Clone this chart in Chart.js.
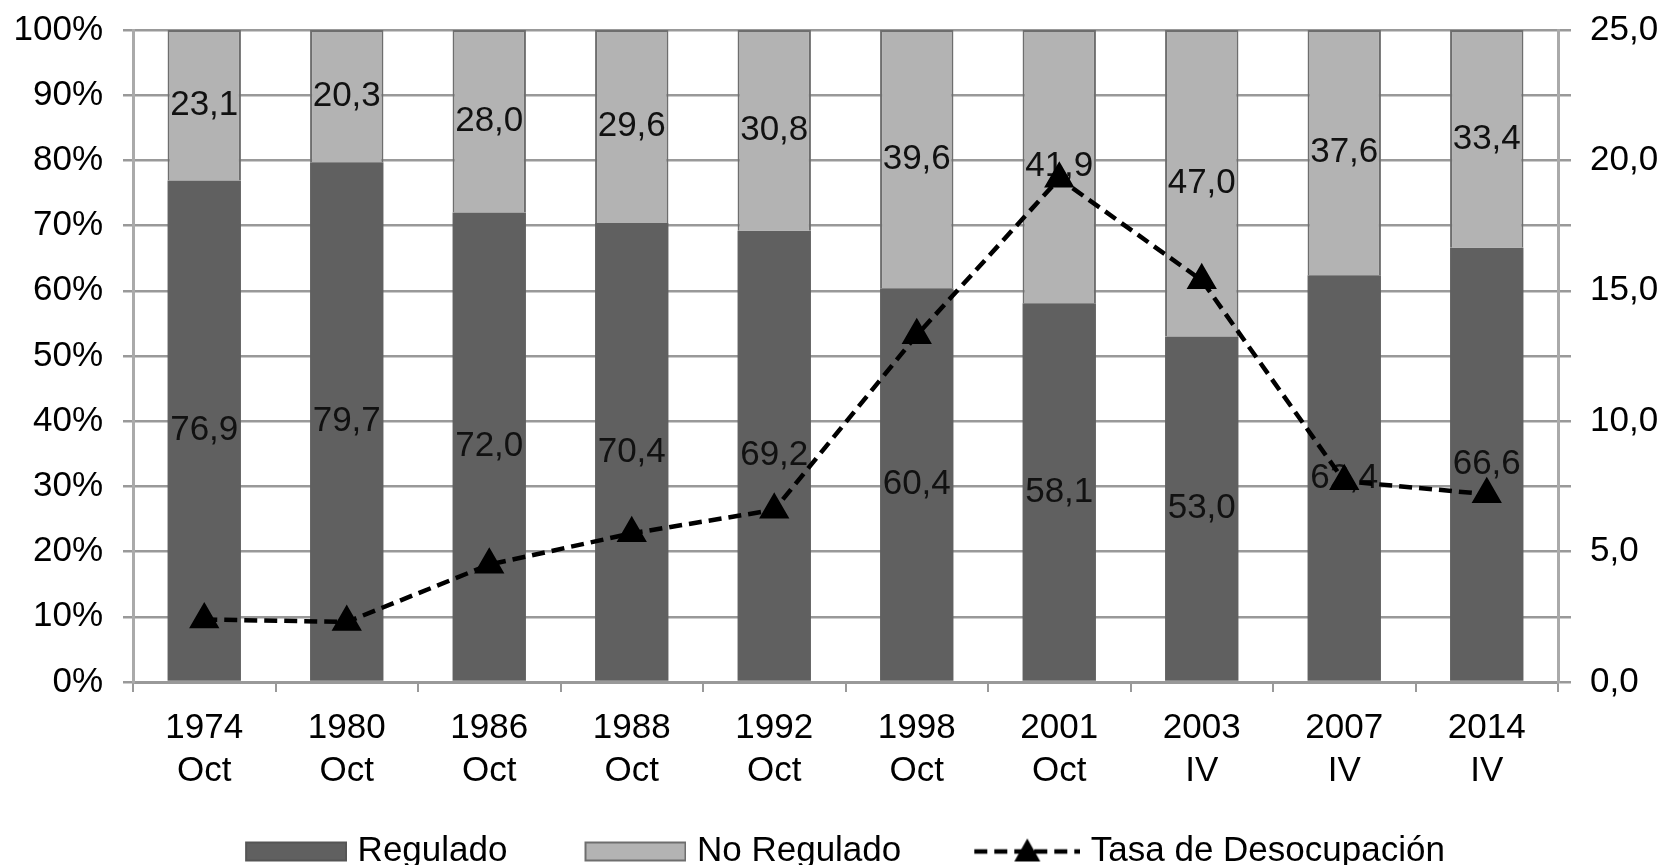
<!DOCTYPE html>
<html>
<head>
<meta charset="utf-8">
<script src="https://cdn.jsdelivr.net/npm/chart.js@4.4.1/dist/chart.umd.min.js"></script>
<style>
html, body { margin: 0; padding: 0; background: #fff; overflow: hidden; }
</style>
</head>
<body>
<canvas id="myChart" width="1665" height="879"></canvas>
<script>
var periods = [['1974', 'Oct'], ['1980', 'Oct'], ['1986', 'Oct'], ['1988', 'Oct'], ['1992', 'Oct'],
               ['1998', 'Oct'], ['2001', 'Oct'], ['2003', 'IV'], ['2007', 'IV'], ['2014', 'IV']];
var regulado = [76.9, 79.7, 72.0, 70.4, 69.2, 60.4, 58.1, 53.0, 62.4, 66.6];
var noRegulado = [23.1, 20.3, 28.0, 29.6, 30.8, 39.6, 41.9, 47.0, 37.6, 33.4];
var desocupacion = [2.4, 2.3, 4.5, 5.7, 6.6, 13.3, 19.3, 15.4, 7.7, 7.2];

var FONT = '"Liberation Sans", Arial, sans-serif';
var DARK = '#606060';
var LIGHT = '#b3b3b3';

function comma(v) { return v.toFixed(1).replace('.', ','); }

// legend icons, drawn right-aligned; the empty left part spaces the items
function icon(kind) {
  var c = document.createElement('canvas');
  c.width = 174; c.height = 30;
  var g = c.getContext('2d');
  if (kind === 'line') {
    g.strokeStyle = '#000'; g.lineWidth = 4.5; g.setLineDash([13, 7]);
    g.beginPath(); g.moveTo(68, 15); g.lineTo(174, 15); g.stroke();
    g.fillStyle = '#000';
    g.beginPath(); g.moveTo(121, 2); g.lineTo(134, 25); g.lineTo(108, 25); g.closePath(); g.fill();
  } else {
    g.fillStyle = kind === 'dark' ? DARK : LIGHT;
    g.fillRect(72, 5, 102, 20);
    g.strokeStyle = kind === 'dark' ? '#555' : '#6e6e6e'; g.lineWidth = 2;
    g.strokeRect(73, 6, 100, 18);
  }
  return c;
}
var icons = [icon('dark'), icon('light'), icon('line')];

var barLabels = {
  id: 'barLabels',
  afterDatasetDraw: function(chart, args) {
    var ds = chart.data.datasets[args.index];
    if (ds.type === 'line') return;
    var ctx = chart.ctx;
    ctx.save();
    ctx.font = '35px ' + FONT;
    ctx.fillStyle = '#111';
    ctx.textAlign = 'center';
    ctx.textBaseline = 'middle';
    args.meta.data.forEach(function(bar, i) {
      ctx.fillText(comma(ds.data[i]), bar.x, (bar.y + bar.base) / 2);
    });
    ctx.restore();
  }
};

Chart.defaults.font.family = FONT;
Chart.defaults.font.size = 35;
Chart.defaults.color = '#000';

new Chart('myChart', {
  type: 'bar',
  data: {
    labels: periods,
    datasets: [{
      label: 'Regulado',
      data: regulado,
      backgroundColor: DARK,
      borderWidth: 0,
      barPercentage: 0.515,
      categoryPercentage: 1,
      yAxisID: 'y',
      order: 1
    }, {
      label: 'No Regulado',
      data: noRegulado,
      backgroundColor: LIGHT,
      borderColor: '#6e6e6e',
      borderWidth: 2,
      barPercentage: 0.515,
      categoryPercentage: 1,
      yAxisID: 'y',
      order: 1
    }, {
      type: 'line',
      label: 'Tasa de Desocupación',
      data: desocupacion,
      yAxisID: 'y1',
      borderColor: '#000',
      borderWidth: 4.5,
      borderDash: [13, 7],
      pointStyle: 'triangle',
      pointRadius: 13,
      pointBackgroundColor: '#000',
      pointBorderColor: '#000',
      fill: false,
      tension: 0,
      order: 0
    }]
  },
  options: {
    responsive: false,
    animation: false,
    // negative left padding only to pull the centred legend a bit to the left
    layout: { padding: { top: 30, left: -40, right: 0, bottom: 0 } },
    plugins: {
      tooltip: { enabled: false },
      legend: {
        position: 'bottom',
        labels: {
          usePointStyle: true,
          pointStyleWidth: 160,
          boxHeight: 30,
          padding: 12,
          font: { size: 35 },
          generateLabels: function(chart) {
            var items = Chart.defaults.plugins.legend.labels.generateLabels(chart);
            items.sort(function(a, b) { return a.datasetIndex - b.datasetIndex; });
            items.forEach(function(it) { it.pointStyle = icons[it.datasetIndex]; });
            return items;
          }
        }
      }
    },
    scales: {
      x: {
        stacked: true,
        offset: true,
        afterFit: function(s) { s.height = 140; },
        grid: { offset: true, drawOnChartArea: false, tickLength: 10, color: '#999', lineWidth: 2 },
        border: { color: '#999', width: 3 },
        ticks: { maxRotation: 0, autoSkip: false, padding: 15, font: { size: 35, lineHeight: 1.23 } }
      },
      y: {
        stacked: true,
        min: 0,
        max: 100,
        afterFit: function(s) { s.width = 173; s.paddingTop = 0; },
        grid: { color: '#999', lineWidth: 2.5, tickLength: 10 },
        border: { color: '#aaa', width: 3 },
        ticks: { stepSize: 10, padding: 20, callback: function(v) { return v + '%'; } }
      },
      y1: {
        position: 'right',
        min: 0,
        max: 25,
        afterFit: function(s) { s.width = 107; s.paddingTop = 0; },
        grid: { drawOnChartArea: false, color: '#999', lineWidth: 2.5, tickLength: 13 },
        border: { color: '#aaa', width: 3 },
        ticks: { stepSize: 2.5, padding: 19, callback: function(v) { return v % 5 === 0 ? comma(v) : ''; } }
      }
    }
  },
  plugins: [barLabels]
});
</script>
</body>
</html>
